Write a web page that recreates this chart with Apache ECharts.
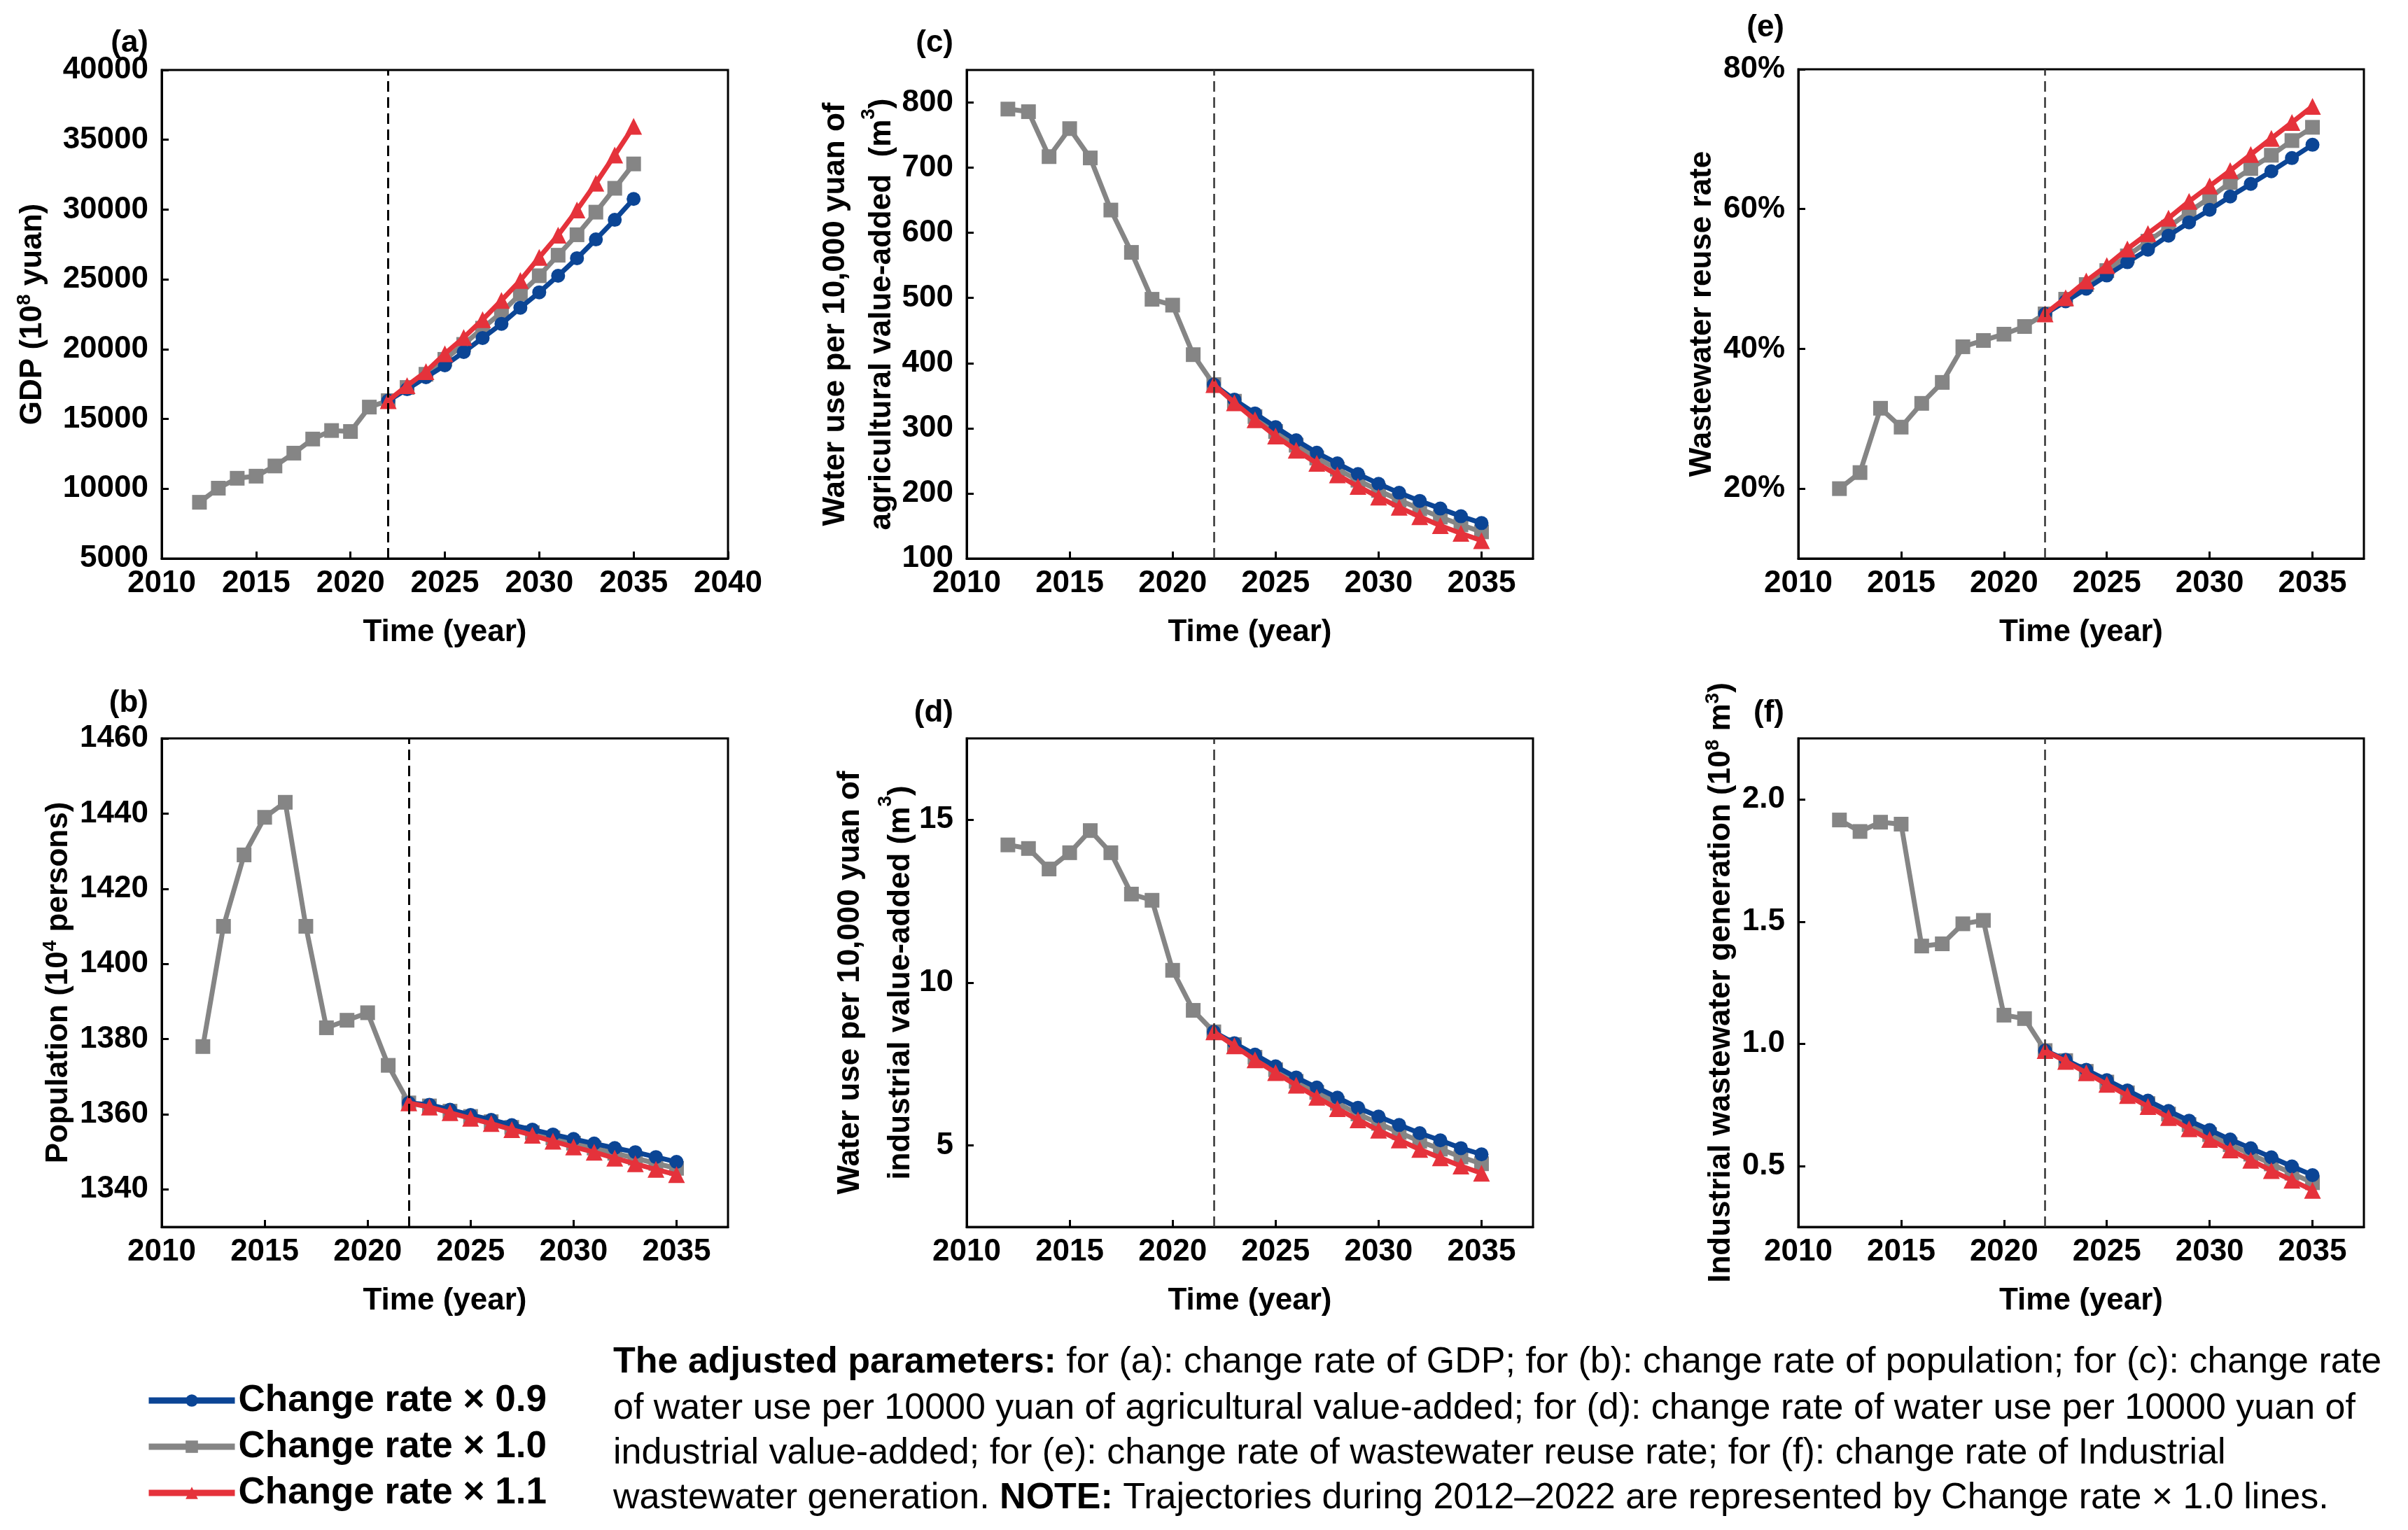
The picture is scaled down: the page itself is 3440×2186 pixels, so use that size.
<!DOCTYPE html>
<html>
<head>
<meta charset="utf-8">
<script src="https://cdn.jsdelivr.net/npm/echarts@6/dist/echarts.min.js"></script>
<style>
  html, body { margin: 0; padding: 0; background: #fff; }
  #chart { width: 3440px; height: 2186px; }
</style>
</head>
<body>
<div id="chart"></div>
<script>
const historyYears = [2012, 2013, 2014, 2015, 2016, 2017, 2018, 2019, 2020, 2021, 2022];
const projectionYears = [2023, 2024, 2025, 2026, 2027, 2028, 2029, 2030, 2031, 2032, 2033, 2034, 2035];
const legendNames = ["Change rate × 0.9", "Change rate × 1.0", "Change rate × 1.1"];

// (a) GDP, 10^8 yuan
const gdpHistory = [9030, 10040, 10750, 10900, 11630, 12550, 13560, 14170, 14100, 15850, 16310];
const gdpRate09 = [17130, 17990, 18840, 19790, 20800, 21810, 22970, 24070, 25260, 26515, 27860, 29265, 30760];
const gdpRate10 = [17255, 18200, 19270, 20340, 21500, 22630, 23950, 25260, 26730, 28195, 29815, 31525, 33270];
const gdpRate11 = [17380, 18390, 19670, 20830, 22110, 23490, 24925, 26575, 28165, 29970, 31890, 33910, 35960];

// (b) population, 10^4 persons
const popHistory = [1378, 1410, 1429, 1439, 1443, 1410, 1383, 1385, 1387, 1373, 1363];
const popRate09 = [1362.5, 1361.2, 1359.8, 1358.5, 1357.1, 1355.9, 1354.6, 1353.4, 1352.2, 1351.0, 1349.9, 1348.6, 1347.3];
const popRate10 = [1362.2, 1360.8, 1359.4, 1358.0, 1356.5, 1355.1, 1353.7, 1352.3, 1351.0, 1349.6, 1348.3, 1346.9, 1345.6];
const popRate11 = [1361.9, 1360.4, 1358.9, 1357.5, 1355.9, 1354.4, 1352.8, 1351.3, 1349.9, 1348.3, 1346.8, 1345.3, 1343.9];

// (c) water use per 10,000 yuan of agricultural value-added, m3
const agriHistory = [790, 786, 717, 760, 715, 635, 570, 498, 489, 413, 367];
const agriRate09 = [343.8, 322.8, 301.8, 281.5, 262.5, 246.1, 229.7, 214.7, 200.9, 188.5, 176.7, 164.9, 154.4];
const agriRate10 = [341.5, 317.9, 295.0, 274.0, 254.3, 237.3, 220.2, 204.5, 189.7, 176.3, 163.6, 151.8, 141.0];
const agriRate11 = [339.2, 313.0, 288.1, 266.4, 246.1, 228.4, 210.7, 194.4, 178.6, 164.2, 150.5, 138.7, 127.5];

// (d) water use per 10,000 yuan of industrial value-added, m3
const induHistory = [14.23, 14.12, 13.49, 13.99, 14.67, 13.99, 12.72, 12.53, 10.38, 9.15, 8.49];
const induRate09 = [8.14, 7.79, 7.43, 7.09, 6.78, 6.47, 6.16, 5.89, 5.63, 5.38, 5.16, 4.92, 4.73];
const induRate10 = [8.10, 7.71, 7.33, 6.97, 6.63, 6.30, 5.97, 5.68, 5.40, 5.13, 4.89, 4.65, 4.44];
const induRate11 = [8.06, 7.63, 7.24, 6.85, 6.48, 6.13, 5.79, 5.47, 5.17, 4.88, 4.62, 4.37, 4.15];

// (e) wastewater reuse rate, %
const reuseHistory = [20.0, 22.3, 31.5, 28.8, 32.2, 35.2, 40.3, 41.2, 42.1, 43.2, 45.0];
const reuseRate09 = [46.8, 48.6, 50.5, 52.4, 54.2, 56.2, 58.1, 59.9, 61.8, 63.6, 65.4, 67.3, 69.2];
const reuseRate10 = [47.1, 49.2, 51.2, 53.3, 55.4, 57.4, 59.6, 61.6, 63.8, 65.8, 67.7, 69.8, 71.7];
const reuseRate11 = [47.3, 49.7, 51.9, 54.3, 56.5, 58.7, 61.1, 63.3, 65.5, 67.8, 70.1, 72.4, 74.7];

// (f) industrial wastewater generation, 10^8 m3
const wasteHistory = [1.916, 1.869, 1.907, 1.899, 1.400, 1.409, 1.491, 1.505, 1.117, 1.103, 0.972];
const wasteRate09 = [0.934, 0.893, 0.851, 0.809, 0.767, 0.725, 0.685, 0.647, 0.608, 0.572, 0.535, 0.498, 0.462];
const wasteRate10 = [0.931, 0.887, 0.843, 0.799, 0.755, 0.712, 0.669, 0.628, 0.587, 0.548, 0.508, 0.470, 0.431];
const wasteRate11 = [0.928, 0.881, 0.834, 0.788, 0.743, 0.698, 0.652, 0.608, 0.565, 0.523, 0.481, 0.441, 0.400];

// tick labels
const gdpTicks = [5000, 10000, 15000, 20000, 25000, 30000, 35000, 40000];
const popTicks = [1340, 1360, 1380, 1400, 1420, 1440, 1460];
const agriTicks = [100, 200, 300, 400, 500, 600, 700, 800];
const induTicks = [5, 10, 15];
const reuseTicks = [20, 40, 60, 80];
const wasteTicks = [0.5, 1.0, 1.5, 2.0];

const FONT = "'Liberation Sans', Arial, sans-serif";
const BLUE = "#0b4595";
const GRAY = "#858585";
const RED = "#e5323b";

const panels = [
  {
    tag: "(a)", tagX: 212, tagY: 62,
    grid: { left: 231, top: 100, width: 809, height: 698 },
    xMax: 2040,
    y: { min: 5000, max: 40000, ticks: gdpTicks, fmt: (v) => String(v) },
    yName: "{t|GDP (10}{s|8}{t| yuan)}", yGap: 158, yLine: 52,
    dash: { color: "#000", width: 3 },
    history: gdpHistory, rates: [gdpRate09, gdpRate10, gdpRate11],
  },
  {
    tag: "(b)", tagX: 212, tagY: 1005,
    grid: { left: 231, top: 1055, width: 809, height: 698 },
    xMax: 2037.5,
    y: { min: 1330, max: 1460, ticks: popTicks, fmt: (v) => String(v) },
    yName: "{t|Population (10}{s|4}{t| persons)}", yGap: 121, yLine: 52,
    dash: { color: "#000", width: 3 },
    history: popHistory, rates: [popRate09, popRate10, popRate11],
  },
  {
    tag: "(c)", tagX: 1362, tagY: 62,
    grid: { left: 1381, top: 100, width: 809, height: 698 },
    xMax: 2037.5,
    y: { min: 100, max: 850, ticks: agriTicks, fmt: (v) => String(v) },
    yName: "{t|Water use per 10,000 yuan of}\n{t|agricultural value-added  (m}{s|3}{t|)}", yGap: 88, yLine: 66,
    dash: { color: "#333", width: 2.5 },
    history: agriHistory, rates: [agriRate09, agriRate10, agriRate11],
  },
  {
    tag: "(d)", tagX: 1362, tagY: 1019,
    grid: { left: 1381, top: 1055, width: 809, height: 698 },
    xMax: 2037.5,
    y: { min: 2.5, max: 17.5, ticks: induTicks, fmt: (v) => String(v) },
    yName: "{t|Water use per 10,000 yuan of}\n{t|industrial value-added (m}{s|3}{t|)}", yGap: 57, yLine: 72,
    dash: { color: "#333", width: 2.5 },
    history: induHistory, rates: [induRate09, induRate10, induRate11],
  },
  {
    tag: "(e)", tagX: 2549, tagY: 40,
    grid: { left: 2569, top: 99, width: 808, height: 699 },
    xMax: 2037.5,
    y: { min: 10, max: 80, ticks: reuseTicks, fmt: (v) => v + "%" },
    yName: "{t|Wastewater reuse rate}", yGap: 111, yLine: 52,
    dash: { color: "#333", width: 2.5 },
    history: reuseHistory, rates: [reuseRate09, reuseRate10, reuseRate11],
  },
  {
    tag: "(f)", tagX: 2549, tagY: 1019,
    grid: { left: 2569, top: 1055, width: 808, height: 698 },
    xMax: 2037.5,
    y: { min: 0.25, max: 2.25, ticks: wasteTicks, fmt: (v) => v.toFixed(1) },
    yName: "{t|Industrial wastewater generation (10}{s|8}{t| m}{s|3}{t|)}", yGap: 84, yLine: 52,
    dash: { color: "#333", width: 2.5 },
    history: wasteHistory, rates: [wasteRate09, wasteRate10, wasteRate11],
  },
];

const lineStyles = [
  { name: legendNames[1], color: GRAY, symbol: "rect", symbolSize: 21, z: 2 },
  { name: legendNames[0], color: BLUE, symbol: "circle", symbolSize: 20, z: 3 },
  { name: legendNames[2], color: RED, symbol: "triangle", symbolSize: 24, z: 4 },
];

function pairs(years, values) {
  return years.map((year, i) => [year, values[i]]);
}

function boldText(size) {
  return { color: "#000", fontFamily: FONT, fontWeight: "bold", fontSize: size };
}

const grids = [];
const xAxes = [];
const yAxes = [];
const series = [];
const graphics = [];

panels.forEach((p, i) => {
  grids.push({ ...p.grid, show: true, borderColor: "#000", borderWidth: 3, containLabel: false });

  xAxes.push({
    type: "value", gridIndex: i, min: 2010, max: p.xMax, interval: 5,
    name: "Time (year)", nameLocation: "middle", nameGap: 84,
    nameTextStyle: boldText(44),
    axisLine: { show: true, onZero: false, lineStyle: { color: "#000", width: 3 } },
    axisTick: { show: true, inside: true, length: 10, lineStyle: { color: "#000", width: 3 } },
    axisLabel: { ...boldText(44), margin: 14, showMaxLabel: p.xMax === 2040, formatter: (v) => String(v) },
    splitLine: { show: false },
  });

  yAxes.push({
    type: "value", gridIndex: i, min: p.y.min, max: p.y.max,
    name: p.yName, nameLocation: "middle", nameGap: p.yGap, nameRotate: 90,
    nameTextStyle: {
      ...boldText(44),
      rich: {
        t: { ...boldText(44), lineHeight: p.yLine },
        s: { ...boldText(28), lineHeight: 30, verticalAlign: "top" },
      },
    },
    axisLine: { show: true, onZero: false, lineStyle: { color: "#000", width: 3 } },
    axisTick: { show: true, inside: true, length: 10, customValues: p.y.ticks, lineStyle: { color: "#000", width: 3 } },
    axisLabel: { ...boldText(44), margin: 19, customValues: p.y.ticks, formatter: p.y.fmt },
    splitLine: { show: false },
  });

  const last = p.history[p.history.length - 1];
  const dataFor = [
    pairs(historyYears, p.history).concat(pairs(projectionYears, p.rates[1])),
    [[2022, last]].concat(pairs(projectionYears, p.rates[0])),
    [[2022, last]].concat(pairs(projectionYears, p.rates[2])),
  ];

  lineStyles.forEach((s, k) => {
    const item = {
      type: "line", name: s.name, xAxisIndex: i, yAxisIndex: i,
      data: dataFor[k],
      symbol: s.symbol, symbolSize: s.symbolSize, showSymbol: true,
      itemStyle: { color: s.color },
      lineStyle: { color: s.color, width: 7 },
      z: s.z, silent: true, animation: false,
    };
    if (k === 0) {
      item.markLine = {
        silent: true, symbol: "none", animation: false,
        label: { show: false },
        lineStyle: { color: p.dash.color, width: p.dash.width, type: [15, 8] },
        data: [{ xAxis: 2022 }],
      };
    }
    series.push(item);
  });

  graphics.push({
    type: "text", x: p.tagX, y: p.tagY,
    style: { text: p.tag, ...boldText(44), fill: "#000", align: "right", verticalAlign: "middle" },
  });
});

const noteLines = [
  "{b|The adjusted parameters:} for (a): change rate of GDP; for (b): change rate of population; for (c): change rate",
  "of water use per 10000 yuan of agricultural value-added; for (d): change rate of water use per 10000 yuan of",
  "industrial value-added; for (e): change rate of wastewater reuse rate; for (f): change rate of Industrial",
  "wastewater generation. {b|NOTE:} Trajectories during 2012\u20132022 are represented by Change rate \u00d7 1.0 lines.",
];
const noteTop = [1947, 2013, 2077, 2141];

noteLines.forEach((line, i) => {
  graphics.push({
    type: "text", x: 876, y: noteTop[i],
    style: {
      text: line, fill: "#000", fontFamily: FONT, fontSize: 52, verticalAlign: "middle",
      rich: {
        b: { fontFamily: FONT, fontSize: 52, fontWeight: "bold", fill: "#000" },
      },
    },
  });
});

const chart = echarts.init(document.getElementById("chart"), null, { renderer: "canvas" });
chart.setOption({
  backgroundColor: "#fff",
  animation: false,
  grid: grids,
  xAxis: xAxes,
  yAxis: yAxes,
  series,
  graphic: graphics,
  legend: {
    data: legendNames,
    orient: "vertical",
    left: 203, top: 1968,
    itemWidth: 123, itemHeight: 22, itemGap: 10,
    selectedMode: false,
    lineStyle: { width: 9 },
    textStyle: { ...boldText(53), lineHeight: 56, padding: [0, 0, 0, 0] },
  },
});
</script>
</body>
</html>
